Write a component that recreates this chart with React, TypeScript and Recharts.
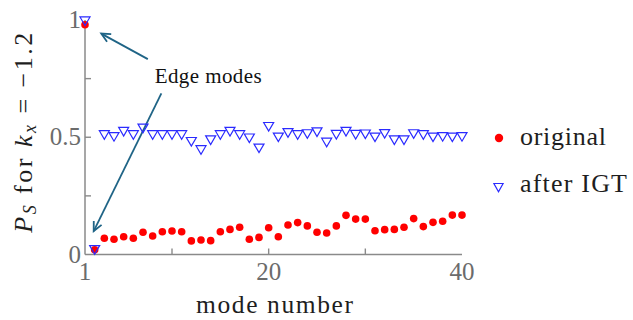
import React from 'react';
import { ScatterChart, Scatter, XAxis, YAxis, ReferenceLine, ReferenceDot, Legend } from 'recharts';

const modes = [1, 2, 3, 4, 5, 6, 7, 8, 9, 10, 11, 12, 13, 14, 15, 16, 17, 18, 19, 20,
  21, 22, 23, 24, 25, 26, 27, 28, 29, 30, 31, 32, 33, 34, 35, 36, 37, 38, 39, 40];

const original = [0.98, 0.02, 0.069, 0.065, 0.076, 0.069, 0.095, 0.079, 0.097, 0.1,
  0.097, 0.058, 0.062, 0.059, 0.097, 0.107, 0.116, 0.065, 0.073, 0.114,
  0.076, 0.126, 0.136, 0.122, 0.095, 0.092, 0.122, 0.167, 0.151, 0.151,
  0.101, 0.106, 0.107, 0.116, 0.153, 0.119, 0.137, 0.142, 0.168, 0.168];

const afterIGT = [0.995, 0.02, 0.51, 0.502, 0.524, 0.51, 0.538, 0.51, 0.51, 0.51,
  0.51, 0.481, 0.446, 0.488, 0.51, 0.524, 0.51, 0.496, 0.453, 0.545,
  0.5, 0.519, 0.51, 0.514, 0.522, 0.478, 0.511, 0.524, 0.511, 0.513,
  0.5, 0.515, 0.488, 0.488, 0.514, 0.51, 0.5, 0.502, 0.5, 0.502];

const xTicks = [1, 10, 20, 30, 40];
const xTickLabels = [1, 20, 40];
const yTicks = [0, 0.25, 0.5, 0.75, 1];
const yTickLabels = [0, 0.5, 1];

const edgeLabelPos = { x: 8.21, y: 0.733 };
const edgeLabelText = 'Edge modes';
const arrowUpper = [{ x: 7.5, y: 0.833 }, { x: 2.68, y: 0.942 }];
const arrowLower = [{ x: 8.9, y: 0.687 }, { x: 1.9, y: 0.1 }];

const seriesNames = ['original', 'after IGT'];

const originalData = modes.map((m, i) => ({ mode: m, p: original[i] }));
const afterData = modes.map((m, i) => ({ mode: m, p: afterIGT[i] }));

const FONT = '"Liberation Serif", "Times New Roman", serif';
const AXIS = '#8a8a8a';
const TICKTXT = '#6b6b6b';
const LABEL = '#1e1e1e';
const RED = '#ff0000';
const BLUE = '#2a2aff';
const ARROW = '#1f6486';

const RedDot = (props: any) => (
  <circle cx={props.cx} cy={props.cy} r={3.8} fill={RED} />
);

const BlueTri = (props: any) => {
  const { cx, cy } = props;
  return (
    <polygon
      points={`${cx - 5},${cy - 4.2} ${cx + 5},${cy - 4.2} ${cx},${cy + 4.4}`}
      fill="none"
      stroke={BLUE}
      strokeWidth={1.2}
    />
  );
};

const BottomTick = (props: any) => {
  const { x, y, payload } = props;
  const v = payload.value;
  return (
    <g>
      {v !== 1 && v !== 40 && (
        <line x1={x} y1={y} x2={x} y2={y - 6} stroke={AXIS} strokeWidth={1.4} />
      )}
      {xTickLabels.includes(v) && (
        <text x={x} y={y + 25.5} textAnchor="middle" fontFamily={FONT} fontSize={25} fill={TICKTXT}>
          {v}
        </text>
      )}
    </g>
  );
};

const TopTick = (props: any) => {
  const { x, y, payload } = props;
  const v = payload.value;
  if (v === 1 || v === 40) return <g />;
  return <line x1={x} y1={y} x2={x} y2={y + 6} stroke={AXIS} strokeWidth={1.4} />;
};

const LeftTick = (props: any) => {
  const { x, y, payload } = props;
  const v = payload.value;
  return (
    <g>
      {v !== 0 && v !== 1 && (
        <line x1={x} y1={y} x2={x + 6} y2={y} stroke={AXIS} strokeWidth={1.4} />
      )}
      {yTickLabels.includes(v) && (
        <text x={x - 4} y={y + 8} textAnchor="end" fontFamily={FONT} fontSize={25} fill={TICKTXT}>
          {String(v)}
        </text>
      )}
    </g>
  );
};

const RightTick = (props: any) => {
  const { x, y, payload } = props;
  const v = payload.value;
  if (v === 0 || v === 1) return <g />;
  return <line x1={x} y1={y} x2={x - 6} y2={y} stroke={AXIS} strokeWidth={1.4} />;
};

const XLabel = (props: any) => {
  const vb = props.viewBox || {};
  return (
    <text
      x={vb.x + vb.width / 2 + 1}
      y={vb.y + 58}
      textAnchor="middle"
      fontFamily={FONT}
      fontSize={25.5}
      fill={LABEL}
      textLength={157}
      lengthAdjust="spacing"
    >
      mode number
    </text>
  );
};

const YLabel = (props: any) => {
  const vb = props.viewBox || {};
  const cx = vb.x + 7;
  const cy = vb.y + vb.height / 2 - 4.5;
  return (
    <text
      x={cx}
      y={cy}
      transform={`rotate(-90, ${cx}, ${cy})`}
      textAnchor="middle"
      fontFamily={FONT}
      fontSize={26}
      fill={LABEL}
      textLength={200}
      lengthAdjust="spacing"
    >
      <tspan fontStyle="italic">P</tspan>
      <tspan fontStyle="italic" fontSize={18} dy={4}>S</tspan>
      <tspan dy={-4}>{' for '}</tspan>
      <tspan fontStyle="italic">k</tspan>
      <tspan fontStyle="italic" fontSize={18} dy={4}>x</tspan>
      <tspan dy={-4}>{' = \u22121.2'}</tspan>
    </text>
  );
};

const Arrow = (props: any) => {
  const { x1, y1, x2, y2 } = props;
  const ang = Math.atan2(y2 - y1, x2 - x1);
  const len = 10;
  const spread = 0.45;
  const ax = x2 - len * Math.cos(ang - spread);
  const ay = y2 - len * Math.sin(ang - spread);
  const bx = x2 - len * Math.cos(ang + spread);
  const by = y2 - len * Math.sin(ang + spread);
  return (
    <g>
      <line x1={x1} y1={y1} x2={x2} y2={y2} stroke={ARROW} strokeWidth={1.8} />
      <polyline
        points={`${ax},${ay} ${x2},${y2} ${bx},${by}`}
        fill="none"
        stroke={ARROW}
        strokeWidth={1.8}
      />
    </g>
  );
};

const EdgeText = (props: any) => (
  <text
    x={props.cx}
    y={props.cy}
    fontFamily={FONT}
    fontSize={21}
    fill="#111"
    textLength={107}
    lengthAdjust="spacing"
  >
    {edgeLabelText}
  </text>
);

const LegendContent = () => {
  return (
    <svg width={143} height={90} style={{ display: 'block' }}>
      {seriesNames.map((name: string, i: number) => {
        const cy = 23 + i * 49.5;
        const isRed = i === 0;
        return (
          <g key={name}>
            {isRed ? (
              <circle cx={9} cy={cy} r={4.2} fill={RED} />
            ) : (
              <polygon
                points={`${8.5 - 4.6},${cy - 4} ${8.5 + 4.6},${cy - 4} ${8.5},${cy + 4.2}`}
                fill="none"
                stroke={BLUE}
                strokeWidth={1.2}
              />
            )}
            <text
              x={30}
              y={cy + (isRed ? 7 : 4.5)}
              fontFamily={FONT}
              fontSize={26}
              fill={LABEL}
              textLength={isRed ? 86 : 107}
              lengthAdjust="spacing"
            >
              {name}
            </text>
          </g>
        );
      })}
    </svg>
  );
};

export default function App() {
  return (
    <div style={{ position: 'absolute', left: 0, top: 0, width: 633, height: 320, background: '#fff' }}>
      <ScatterChart width={633} height={320} margin={{ top: 20, right: 171, bottom: 0, left: 25 }}>
        <XAxis
          dataKey="mode"
          type="number"
          domain={[1, 40]}
          ticks={xTicks}
          interval={0}
          height={65.5}
          tickSize={0}
          tickMargin={0}
          tickLine={false}
          axisLine={{ stroke: AXIS, strokeWidth: 1.5 }}
          tick={<BottomTick />}
          label={<XLabel />}
        />
        <XAxis
          xAxisId="top"
          orientation="top"
          type="number"
          domain={[1, 40]}
          allowDataOverflow
          ticks={xTicks}
          interval={0}
          height={0}
          tickSize={0}
          tickMargin={0}
          tickLine={false}
          axisLine={{ stroke: AXIS, strokeWidth: 1.5 }}
          tick={<TopTick />}
        />
        <YAxis
          dataKey="p"
          type="number"
          domain={[0, 1]}
          ticks={yTicks}
          interval={0}
          width={60}
          tickSize={0}
          tickMargin={0}
          tickLine={false}
          axisLine={{ stroke: AXIS, strokeWidth: 1.5 }}
          tick={<LeftTick />}
          label={<YLabel />}
        />
        <YAxis
          yAxisId="right"
          orientation="right"
          type="number"
          domain={[0, 1]}
          allowDataOverflow
          ticks={yTicks}
          interval={0}
          width={0}
          tickSize={0}
          tickMargin={0}
          tickLine={false}
          axisLine={{ stroke: AXIS, strokeWidth: 1.5 }}
          tick={<RightTick />}
        />
        <Scatter name={seriesNames[0]} data={originalData} fill={RED} shape={RedDot} isAnimationActive={false} />
        <Scatter name={seriesNames[1]} data={afterData} fill={BLUE} shape={BlueTri} isAnimationActive={false} />
        <ReferenceLine segment={arrowUpper} shape={Arrow} />
        <ReferenceLine segment={arrowLower} shape={Arrow} />
        <ReferenceDot x={edgeLabelPos.x} y={edgeLabelPos.y} r={0} shape={EdgeText} />
        <Legend
          layout="vertical"
          align="center"
          verticalAlign="middle"
          wrapperStyle={{ left: 490, top: 115, width: 143, height: 90 }}
          content={<LegendContent />}
        />
      </ScatterChart>
    </div>
  );
}
